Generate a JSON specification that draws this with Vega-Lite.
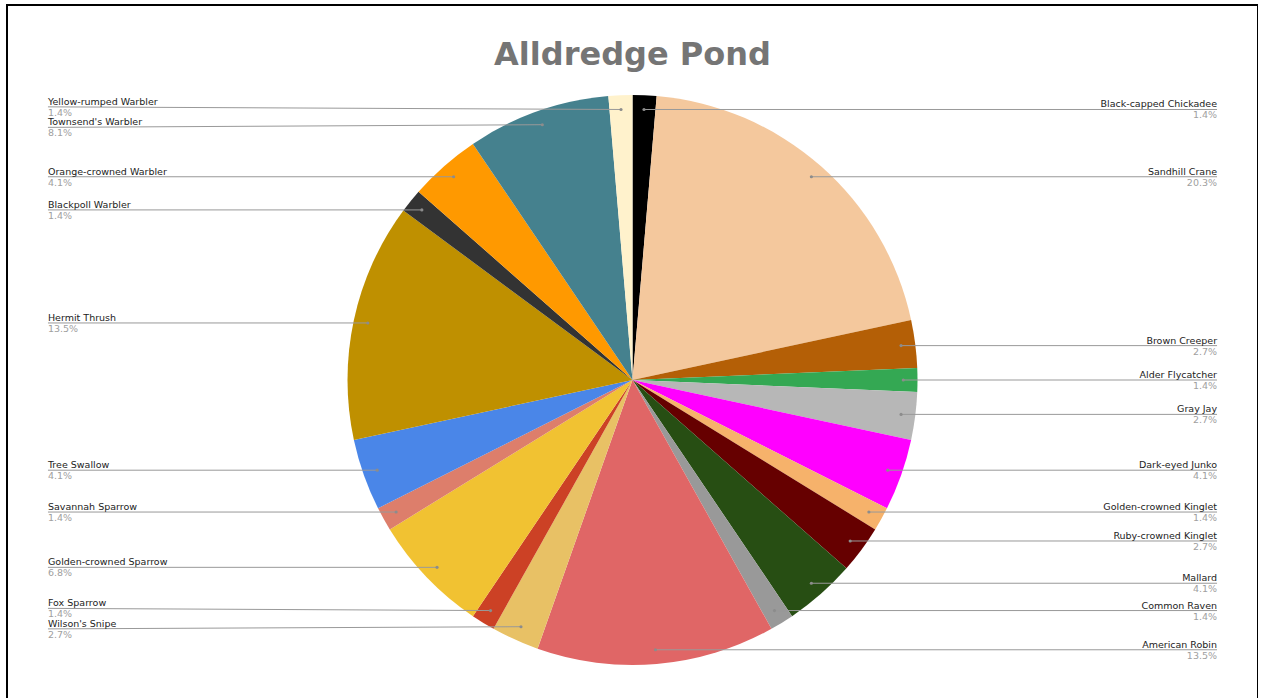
{
  "$schema": "https://vega.github.io/schema/vega-lite/v6.json",
  "autosize": "none",
  "padding": {"left": 7, "top": 5, "right": 0, "bottom": 0},
  "width": 1251,
  "height": 750,
  "background": "white",
  "config": {"view": {"stroke": "#000000", "strokeWidth": 2}, "font": "DejaVu Sans"},
  "title": {"text": "Alldredge Pond", "font": "DejaVu Sans", "fontSize": 32, "fontWeight": "bold", "color": "#757575", "anchor": "middle", "baseline": "alphabetic", "offset": -92},
  "data": {"values": [
    {"idx": 1, "bird": "Black-capped Chickadee", "count": 1},
    {"idx": 2, "bird": "Sandhill Crane", "count": 15},
    {"idx": 3, "bird": "Brown Creeper", "count": 2},
    {"idx": 4, "bird": "Alder Flycatcher", "count": 1},
    {"idx": 5, "bird": "Gray Jay", "count": 2},
    {"idx": 6, "bird": "Dark-eyed Junko", "count": 3},
    {"idx": 7, "bird": "Golden-crowned Kinglet", "count": 1},
    {"idx": 8, "bird": "Ruby-crowned Kinglet", "count": 2},
    {"idx": 9, "bird": "Mallard", "count": 3},
    {"idx": 10, "bird": "Common Raven", "count": 1},
    {"idx": 11, "bird": "American Robin", "count": 10},
    {"idx": 12, "bird": "Wilson's Snipe", "count": 2},
    {"idx": 13, "bird": "Fox Sparrow", "count": 1},
    {"idx": 14, "bird": "Golden-crowned Sparrow", "count": 5},
    {"idx": 15, "bird": "Savannah Sparrow", "count": 1},
    {"idx": 16, "bird": "Tree Swallow", "count": 3},
    {"idx": 17, "bird": "Hermit Thrush", "count": 10},
    {"idx": 18, "bird": "Blackpoll Warbler", "count": 1},
    {"idx": 19, "bird": "Orange-crowned Warbler", "count": 3},
    {"idx": 20, "bird": "Townsend's Warbler", "count": 6},
    {"idx": 21, "bird": "Yellow-rumped Warbler", "count": 1}
  ]},
  "transform": [
    {"joinaggregate": [{"op": "sum", "field": "count", "as": "total"}]},
    {"window": [{"op": "sum", "field": "count", "as": "cum"}], "sort": [{"field": "idx", "order": "ascending"}], "frame": [null, 0]},
    {"calculate": "2*PI*(datum.cum - datum.count/2)/datum.total", "as": "mid"},
    {"calculate": "0.95*sin(datum.mid)", "as": "px"},
    {"calculate": "0.95*cos(datum.mid)", "as": "py"},
    {"calculate": "sin(datum.mid) >= 0 ? 'right' : 'left'", "as": "side"},
    {"calculate": "datum.side == 'right' ? 2.051 : -2.051", "as": "lx"},
    {"window": [{"op": "lag", "field": "py", "as": "prevy"}, {"op": "lead", "field": "py", "as": "nexty"}], "groupby": ["side"], "sort": [{"field": "py", "order": "descending"}]},
    {"calculate": "isValid(datum.prevy) ? max(0, 0.072 - (datum.prevy - datum.py)) : 0", "as": "ovp"},
    {"calculate": "isValid(datum.nexty) ? max(0, 0.072 - (datum.py - datum.nexty)) : 0", "as": "ovn"},
    {"calculate": "datum.py - datum.ovp/2 + datum.ovn/2", "as": "ly"},
    {"calculate": "format(datum.count/datum.total, '.1%')", "as": "pct"}
  ],
  "layer": [
    {
      "mark": {"type": "arc", "radius": 285},
      "encoding": {
        "theta": {"field": "count", "type": "quantitative", "stack": true},
        "order": {"field": "idx", "type": "quantitative"},
        "color": {
          "field": "bird", "type": "nominal", "legend": null,
          "scale": {
            "domain": ["Black-capped Chickadee", "Sandhill Crane", "Brown Creeper", "Alder Flycatcher", "Gray Jay", "Dark-eyed Junko", "Golden-crowned Kinglet", "Ruby-crowned Kinglet", "Mallard", "Common Raven", "American Robin", "Wilson's Snipe", "Fox Sparrow", "Golden-crowned Sparrow", "Savannah Sparrow", "Tree Swallow", "Hermit Thrush", "Blackpoll Warbler", "Orange-crowned Warbler", "Townsend's Warbler", "Yellow-rumped Warbler"],
            "range": ["#000000", "#f4c89d", "#b45f06", "#34a853", "#b7b7b7", "#ff00ff", "#f6b26b", "#660000", "#274e13", "#999999", "#e06666", "#e8c165", "#cc4125", "#f1c232", "#dd7e6b", "#4a86e8", "#bf9000", "#333333", "#ff9900", "#45818e", "#fff2cc"]
          }
        }
      }
    },
    {
      "mark": {"type": "rule", "color": "#999999", "strokeWidth": 1},
      "encoding": {
        "x": {"field": "lx", "type": "quantitative", "scale": {"domain": [-2.19474, 2.19474], "nice": false, "zero": false}, "axis": null},
        "y": {"field": "ly", "type": "quantitative", "scale": {"domain": [-1.31579, 1.31579], "nice": false, "zero": false}, "axis": null},
        "x2": {"field": "px"},
        "y2": {"field": "py"}
      }
    },
    {
      "mark": {"type": "point", "filled": true, "color": "#8c8c8c", "size": 10, "opacity": 1},
      "encoding": {
        "x": {"field": "px", "type": "quantitative"},
        "y": {"field": "py", "type": "quantitative"}
      }
    },
    {
      "transform": [{"filter": "datum.side == 'right'"}],
      "mark": {"type": "text", "align": "right", "baseline": "alphabetic", "dy": -2, "fontSize": 9.5, "color": "#222222"},
      "encoding": {
        "x": {"field": "lx", "type": "quantitative"},
        "y": {"field": "ly", "type": "quantitative"},
        "text": {"field": "bird"}
      }
    },
    {
      "transform": [{"filter": "datum.side == 'left'"}],
      "mark": {"type": "text", "align": "left", "baseline": "alphabetic", "dy": -2, "fontSize": 9.5, "color": "#222222"},
      "encoding": {
        "x": {"field": "lx", "type": "quantitative"},
        "y": {"field": "ly", "type": "quantitative"},
        "text": {"field": "bird"}
      }
    },
    {
      "transform": [{"filter": "datum.side == 'right'"}],
      "mark": {"type": "text", "align": "right", "baseline": "top", "dy": 1, "fontSize": 9.5, "color": "#a0a0a0"},
      "encoding": {
        "x": {"field": "lx", "type": "quantitative"},
        "y": {"field": "ly", "type": "quantitative"},
        "text": {"field": "pct"}
      }
    },
    {
      "transform": [{"filter": "datum.side == 'left'"}],
      "mark": {"type": "text", "align": "left", "baseline": "top", "dy": 1, "fontSize": 9.5, "color": "#a0a0a0"},
      "encoding": {
        "x": {"field": "lx", "type": "quantitative"},
        "y": {"field": "ly", "type": "quantitative"},
        "text": {"field": "pct"}
      }
    }
  ]
}
